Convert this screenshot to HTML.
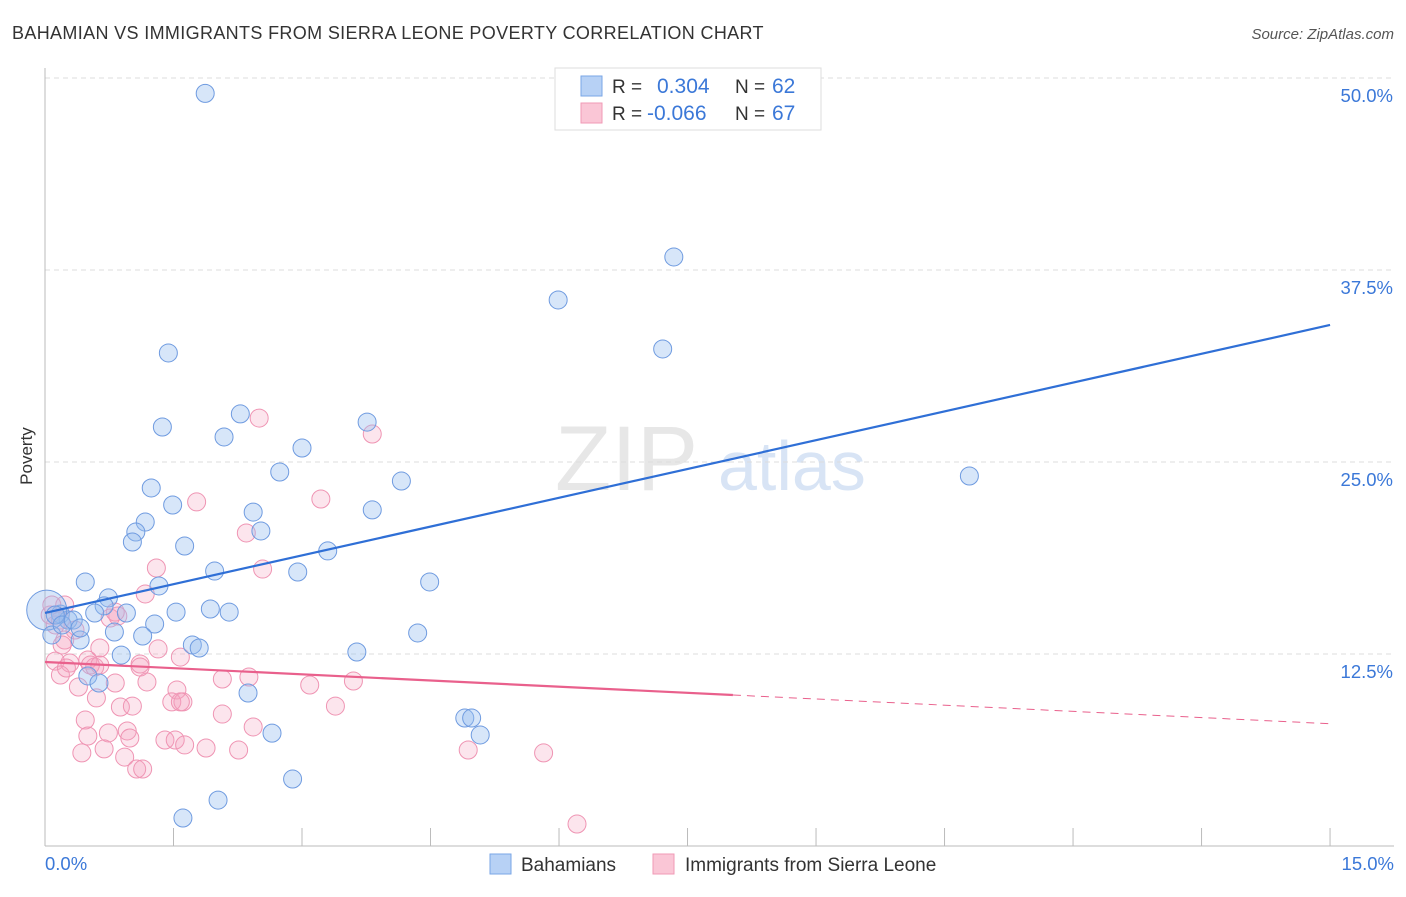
<!DOCTYPE html>
<html><head><meta charset="utf-8"><style>
body{margin:0;background:#fff;font-family:"Liberation Sans",sans-serif}
svg text{font-family:"Liberation Sans",sans-serif}
</style></head><body>
<svg id="c" width="1406" height="892">
<text x="12" y="39" font-size="18" letter-spacing="0.35" fill="#333">BAHAMIAN VS IMMIGRANTS FROM SIERRA LEONE POVERTY CORRELATION CHART</text>
<text x="1394" y="39" font-size="15" fill="#555" font-style="italic" text-anchor="end">Source: ZipAtlas.com</text>
<text x="32" y="456" font-size="17" fill="#333" transform="rotate(-90 32 456)" text-anchor="middle">Poverty</text>
<g id="watermark">
<text x="555" y="490" font-size="92" fill="#ddd" font-family="Liberation Serif" opacity="0.7">ZIP</text>
<text x="718" y="490" font-size="70" fill="#c8daf2" opacity="0.7">atlas</text>
</g>
<g id="grid"></g><g id="axes"></g><g id="pts"></g><g id="trend"></g>
<g>
<rect x="555" y="68" width="266" height="62" fill="#fff" stroke="#ddd"/>
<rect x="581" y="76" width="21" height="20" fill="#b7d1f5" stroke="#7aa6e6"/>
<rect x="581" y="103" width="21" height="20" fill="#fac6d6" stroke="#f09ab6"/>
<text x="612" y="93" font-size="19" fill="#333">R =</text><text x="657" y="93" font-size="21" fill="#3b78d8">0.304</text>
<text x="735" y="93" font-size="19" fill="#333">N =</text><text x="772" y="93" font-size="21" fill="#3b78d8">62</text>
<text x="612" y="120" font-size="19" fill="#333">R =</text><text x="647" y="120" font-size="21" fill="#3b78d8">-0.066</text>
<text x="735" y="120" font-size="19" fill="#333">N =</text><text x="772" y="120" font-size="21" fill="#3b78d8">67</text>
</g>
<g>
<rect x="490" y="854" width="21" height="20" fill="#b7d1f5" stroke="#7aa6e6"/>
<text x="521" y="871" font-size="19" fill="#333">Bahamians</text>
<rect x="653" y="854" width="21" height="20" fill="#fac6d6" stroke="#f09ab6"/>
<text x="685" y="871" font-size="19" fill="#333">Immigrants from Sierra Leone</text>
</g>
</svg>
<script>
const blueX=[1.87,7.34,5.99,1.44,7.21,2.28,1.37,2.09,3.76,3.0,2.74,4.16,10.79,1.24,1.49,2.43,3.82,1.17,1.06,2.52,1.02,1.63,3.30,1.98,2.95,0.47,1.33,4.49,0.74,0.69,0.95,0.58,1.53,1.93,2.15,0.18,0.27,1.28,0.81,1.14,0.41,4.35,1.72,1.80,0.89,3.64,0.50,0.63,2.37,4.90,4.98,2.65,5.08,2.89,2.02,1.61,0.02,0.08,0.12,0.2,0.33,0.41];
const blueY=[49.0,38.35,35.55,32.1,32.36,28.13,27.28,26.63,27.6,25.91,24.35,23.76,24.09,23.31,22.2,21.74,21.88,21.09,20.44,20.51,19.79,19.53,19.21,17.9,17.84,17.19,16.93,17.19,16.15,15.63,15.17,15.17,15.23,15.43,15.23,15.1,14.71,14.45,13.93,13.67,13.41,13.87,13.09,12.89,12.43,12.63,11.07,10.61,9.96,8.33,8.33,7.35,7.23,4.36,2.99,1.82,15.36,13.74,15.04,14.39,14.71,14.19];
const pinkX=[2.50,3.82,3.22,1.77,2.35,2.54,1.30,1.17,0.23,0.76,0.85,0.18,0.12,0.35,0.23,0.64,1.32,1.58,0.50,0.58,1.11,0.12,0.29,0.18,0.82,1.19,0.39,2.07,2.38,3.09,3.60,1.54,1.48,1.61,0.60,3.39,0.88,1.02,2.07,0.47,2.43,0.96,0.74,0.50,0.99,1.40,1.52,1.63,1.88,2.26,0.69,0.43,4.94,5.82,0.93,1.07,1.14,6.21,0.06,0.08,0.25,0.53,1.58,1.11,0.64,0.82,0.2];
const pinkY=[27.86,26.82,22.59,22.4,20.38,18.03,18.1,16.41,15.69,14.84,14.97,14.71,14.39,14.06,13.41,12.89,12.83,12.3,12.11,11.65,11.85,12.04,11.91,11.13,10.61,10.68,10.35,10.87,11.0,10.48,10.74,10.16,9.38,9.38,9.64,9.11,9.05,9.11,8.59,8.2,7.75,7.49,7.36,7.16,7.03,6.9,6.9,6.58,6.38,6.25,6.32,6.06,6.25,6.06,5.79,5.01,5.01,1.43,15.04,15.69,11.59,11.78,9.38,11.65,11.78,15.23,13.09];
const yTicks=[12.5,25.0,37.5,50.0];
const yTickLabels=["12.5%","25.0%","37.5%","50.0%"];
const xTicks=[1.5,3,4.5,6,7.5,9,10.5,12,13.5,15];
const blueTrend=[[0,15.17],[15,33.92]];
const pinkTrend=[[0,11.98],[8.03,9.83],[15,7.96]];
const X=v=>45+v*85.67, Y=v=>846-v*15.36;
const NS="http://www.w3.org/2000/svg";
function mk(p,t,a){const e=document.createElementNS(NS,t);for(const k in a)e.setAttribute(k,a[k]);document.getElementById(p).appendChild(e);return e;}
yTicks.forEach((t,i)=>{
 const l=mk('grid','line',{x1:45,x2:1394,y1:Y(t),y2:Y(t),stroke:'#ddd','stroke-dasharray':'5,4'});
 
 
 const tx=mk('grid','text',{x:1393,y:Y(t)+24,'font-size':18.5,fill:'#3b78d8','text-anchor':'end'});
 tx.textContent=yTickLabels[i];
 
 
});
let ax=mk('axes','line',{x1:45,x2:45,y1:68,y2:846,stroke:'#bbb'});


ax=mk('axes','line',{x1:45,x2:1394,y1:846,y2:846,stroke:'#bbb'});


xTicks.forEach(t=>{const l=mk('axes','line',{x1:X(t),x2:X(t),y1:828,y2:846,stroke:'#bbb'});
 
 });
let t0=mk('axes','text',{x:45,y:870,'font-size':18.5,fill:'#3b78d8'});t0.textContent='0.0%';


t0=mk('axes','text',{x:1394,y:870,'font-size':18.5,fill:'#3b78d8','text-anchor':'end'});t0.textContent='15.0%';


pinkX.forEach((x,i)=>{const c=mk('pts','circle',{cx:X(x),cy:Y(pinkY[i]),r:9,fill:'rgba(245,160,190,0.28)',stroke:'#ef94b3','stroke-width':1});
 
 });
blueX.forEach((x,i)=>{const c=mk('pts','circle',{cx:X(x),cy:Y(blueY[i]),r:i==56?20:9,fill:'rgba(150,188,240,0.38)',stroke:'#6f9be0','stroke-width':1});
 
 });
let tl=mk('trend','line',{x1:X(blueTrend[0][0]),y1:Y(blueTrend[0][1]),x2:X(blueTrend[1][0]),y2:Y(blueTrend[1][1]),stroke:'#2f6fd6','stroke-width':2.2});


tl=mk('trend','line',{x1:X(pinkTrend[0][0]),y1:Y(pinkTrend[0][1]),x2:X(pinkTrend[1][0]),y2:Y(pinkTrend[1][1]),stroke:'#e9608c','stroke-width':2.2});


tl=mk('trend','line',{x1:X(pinkTrend[1][0]),y1:Y(pinkTrend[1][1]),x2:X(pinkTrend[2][0]),y2:Y(pinkTrend[2][1]),stroke:'#e9608c','stroke-width':1,'stroke-dasharray':'8,6'});


</script>
</body></html>
